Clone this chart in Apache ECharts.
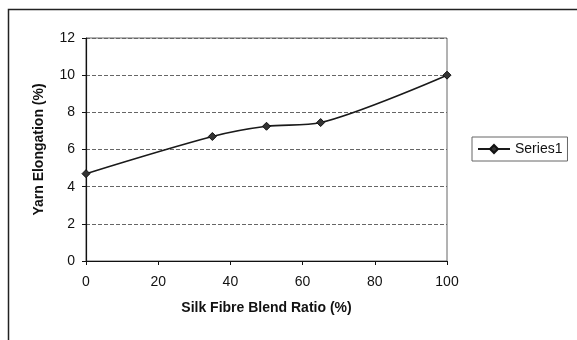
<!DOCTYPE html>
<html>
<head>
<meta charset="utf-8">
<script src="https://cdn.jsdelivr.net/npm/echarts@6/dist/echarts.min.js"></script>
<style>
html,body{margin:0;padding:0;background:#fff;}
#c{width:577px;height:340px;}
</style>
</head>
<body>
<div id="c"></div>
<script>
const xValues = [0, 35, 50, 65, 100];
const yValues = [4.7, 6.7, 7.25, 7.45, 10];
const seriesName = 'Series1';
const xTitle = 'Silk Fibre Blend Ratio (%)';
const yTitle = 'Yarn Elongation (%)';

const chart = echarts.init(document.getElementById('c'), null, {renderer: 'canvas'});
const font = 'Liberation Sans, Arial, sans-serif';
chart.setOption({
  animation: false,
  backgroundColor: '#fff',
  textStyle: {fontFamily: font},
  graphic: [{
    type: 'rect',
    shape: {x: 8.5, y: 9.5, width: 600, height: 400},
    style: {fill: 'none', stroke: '#222', lineWidth: 1.5},
    silent: true
  }],
  grid: {left: 86, top: 38, width: 361, height: 223, show: true, borderColor: '#666', borderWidth: 1},
  legend: {
    data: [seriesName],
    left: 472, top: 137,
    padding: [5, 5, 5, 5],
    itemWidth: 32, itemHeight: 10, itemGap: 4,
    borderColor: '#666', borderWidth: 1,
    textStyle: {fontSize: 14, color: '#111', fontFamily: font}
  },
  xAxis: {
    type: 'value', min: 0, max: 100, interval: 20,
    name: xTitle, nameLocation: 'middle', nameGap: 40,
    nameTextStyle: {fontSize: 14, fontWeight: 'bold', color: '#111', fontFamily: font},
    axisLine: {lineStyle: {color: '#111', width: 1.2}},
    axisTick: {show: true, length: 4, lineStyle: {color: '#111'}},
    axisLabel: {fontSize: 14, color: '#111', margin: 14, fontFamily: font},
    splitLine: {show: false}
  },
  yAxis: {
    type: 'value', min: 0, max: 12, interval: 2,
    name: yTitle, nameLocation: 'middle', nameGap: 40, nameRotate: 90,
    nameTextStyle: {fontSize: 14, fontWeight: 'bold', color: '#111', fontFamily: font},
    axisLine: {show: true, lineStyle: {color: '#111', width: 1.2}},
    axisTick: {show: true, length: 4, lineStyle: {color: '#111'}},
    axisLabel: {fontSize: 14, color: '#111', margin: 11, fontFamily: font},
    splitLine: {show: true, lineStyle: {color: '#666', type: [4, 2], width: 1}}
  },
  series: [{
    name: seriesName,
    type: 'line',
    data: xValues.map((x, i) => [x, yValues[i]]),
    smooth: 0.3,
    symbol: 'diamond',
    symbolSize: 8,
    lineStyle: {color: '#1a1a1a', width: 1.6},
    itemStyle: {color: '#333', borderColor: '#111', borderWidth: 1}
  }]
});
</script>
</body>
</html>
